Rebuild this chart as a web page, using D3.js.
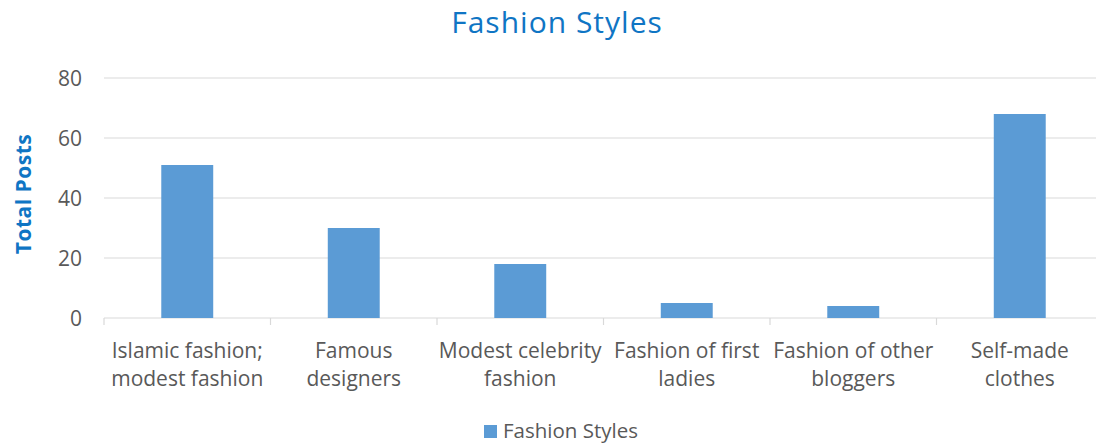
<!DOCTYPE html>
<html><head><meta charset="utf-8">
<script src="https://cdn.jsdelivr.net/npm/d3@7"></script>
<style>body{margin:0;background:#fff}svg{display:block}</style>
</head><body><svg id="c" width="1096" height="447"></svg>
<script>
const categories = [["Islamic fashion;","modest fashion"],["Famous","designers"],["Modest celebrity","fashion"],["Fashion of first","ladies"],["Fashion of other","bloggers"],["Self-made","clothes"]];
const values = [51, 30, 18, 5, 4, 68];
const yTicks = [0, 20, 40, 60, 80];
const seriesName = "Fashion Styles";
const titleText = "Fashion Styles";
const yLabel = "Total Posts";

const font = "'Open Sans', sans-serif";
const svg = d3.select("#c");
const x = d3.scaleBand().domain(d3.range(categories.length)).range([104, 1103]).paddingInner(0.688).paddingOuter(0.344);
const y = d3.scaleLinear().domain([0, 80]).range([318, 78]);

svg.append("g").selectAll("line").data(yTicks).join("line")
  .attr("x1", 104).attr("x2", 1103).attr("y1", d => y(d)).attr("y2", d => y(d))
  .attr("stroke", "#d9d9d9").attr("stroke-width", 1.2);

svg.append("g").selectAll("text").data(yTicks).join("text")
  .attr("x", 82).attr("y", d => y(d) + 7.5).attr("text-anchor", "end")
  .attr("font-family", font).attr("font-size", 21).attr("fill", "#595959").text(d => d);

const step = x.step();
svg.append("g").selectAll("line").data(d3.range(categories.length + 1)).join("line")
  .attr("x1", d => 104 + d * step).attr("x2", d => 104 + d * step)
  .attr("y1", 318).attr("y2", 325).attr("stroke", "#d9d9d9").attr("stroke-width", 1.2);

svg.append("g").selectAll("rect").data(values).join("rect")
  .attr("x", (d, i) => x(i)).attr("width", x.bandwidth())
  .attr("y", d => y(d)).attr("height", d => y(0) - y(d))
  .attr("fill", "#5b9bd5");

const lab = svg.append("g").selectAll("text").data(categories).join("text")
  .attr("text-anchor", "middle").attr("font-family", font).attr("font-size", 21).attr("fill", "#595959");
lab.each(function(d, i) {
  const t = d3.select(this);
  d.forEach((line, j) => t.append("tspan").attr("x", x(i) + x.bandwidth() / 2).attr("y", 358 + j * 28).text(line));
});

svg.append("text").attr("x", 557).attr("y", 33).attr("text-anchor", "middle")
  .attr("font-family", font).attr("font-size", 30).attr("letter-spacing", 1).attr("fill", "#0f75c4").text(titleText);

svg.append("text").attr("transform", "translate(31,194) rotate(-90)").attr("text-anchor", "middle")
  .attr("font-family", font).attr("font-size", 21).attr("letter-spacing", 0.5).attr("font-weight", "bold").attr("fill", "#0f75c4").text(yLabel);

svg.append("rect").attr("x", 484).attr("y", 425).attr("width", 13).attr("height", 13).attr("fill", "#5b9bd5");
svg.append("text").attr("x", 503).attr("y", 438).attr("font-family", font).attr("font-size", 20.5).attr("fill", "#595959").text(seriesName);
</script></body></html>
